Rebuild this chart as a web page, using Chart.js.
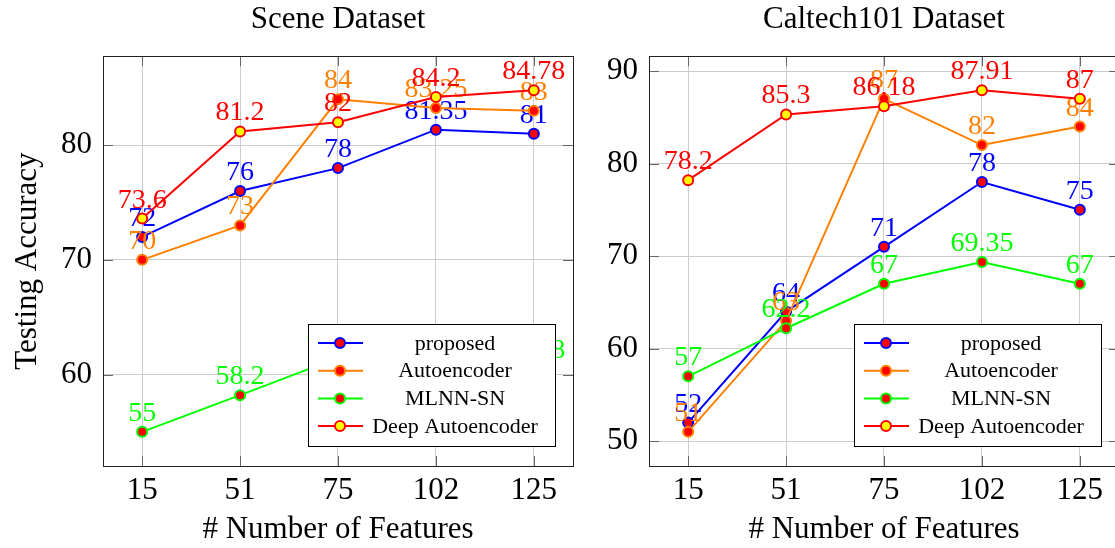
<!DOCTYPE html>
<html>
<head>
<meta charset="utf-8">
<script src="https://cdn.jsdelivr.net/npm/chart.js@4.4.0/dist/chart.umd.min.js"></script>
<style>
  html, body { margin: 0; padding: 0; background: #fff; overflow: hidden; }
  #wrap { position: relative; width: 1115px; height: 548px; overflow: hidden; }
  .box { position: absolute; top: 0; height: 548px; }
  #sceneBox { left: 0; width: 585px; }
  #caltechBox { left: 580px; width: 550px; }
</style>
</head>
<body>
<div id="wrap">
  <div class="box" id="sceneBox"><canvas id="scene-chart"></canvas></div>
  <div class="box" id="caltechBox"><canvas id="caltech-chart"></canvas></div>
</div>
<script>
const features = ["15", "51", "75", "102", "125"];
const seriesNames = ["proposed", "Autoencoder", "MLNN-SN", "Deep Autoencoder"];

// Scene dataset
const sceneProposed = [72, 76, 78, 81.35, 81];
const sceneAutoencoder = [70, 73, 84, 83.25, 83];
const sceneMlnn = [55, 58.2, 61.45, 61.8, 60.48];
const sceneDeep = [73.6, 81.2, 82, 84.2, 84.78];
const sceneTicks = [60, 70, 80];

// Caltech101 dataset
const caltechProposed = [52, 64, 71, 78, 75];
const caltechAutoencoder = [51, 63, 87, 82, 84];
const caltechMlnn = [57, 62.2, 67, 69.35, 67];
const caltechDeep = [78.2, 85.3, 86.18, 87.91, 87];
const caltechTicks = [50, 60, 70, 80, 90];

const lineColors = ["#0000ff", "#ff8000", "#00ff00", "#ff0000"];
const markFills = ["#ff0000", "#ff0000", "#ff0000", "#ffff00"];

const SERIF = '"Liberation Serif", "DejaVu Serif", serif';
Chart.defaults.font.family = SERIF;
Chart.defaults.color = "#000";

// numbers above each mark, drawn right after its own line so later series sit on top
const valueLabels = {
  id: "valueLabels",
  afterDatasetDraw(chart, args) {
    const ds = chart.data.datasets[args.index];
    const ctx = chart.ctx;
    ctx.save();
    ctx.font = "28px " + SERIF;
    ctx.fillStyle = ds.borderColor;
    ctx.textAlign = "center";
    ctx.textBaseline = "alphabetic";
    args.meta.data.forEach((pt, i) => {
      ctx.fillText(String(ds.data[i].y), pt.x, pt.y - 11);
    });
    ctx.restore();
  }
};

// axis frame with inward tick marks, then the boxed legend in the lower right
const frameAndLegend = {
  id: "frameAndLegend",
  afterDatasetsDraw(chart) {
    const { ctx, chartArea: a, scales } = chart;
    ctx.save();
    ctx.strokeStyle = "#666";
    ctx.lineWidth = 1;
    ctx.beginPath();
    scales.x.ticks.forEach(t => {
      const x = Math.round(scales.x.getPixelForValue(t.value)) + 0.5;
      ctx.moveTo(x, a.top); ctx.lineTo(x, a.top + 10);
      ctx.moveTo(x, a.bottom); ctx.lineTo(x, a.bottom - 10);
    });
    scales.y.ticks.forEach(t => {
      const y = Math.round(scales.y.getPixelForValue(t.value)) + 0.5;
      ctx.moveTo(a.left, y); ctx.lineTo(a.left + 10, y);
      ctx.moveTo(a.right, y); ctx.lineTo(a.right - 10, y);
    });
    ctx.stroke();
    ctx.strokeStyle = "#222";
    ctx.strokeRect(Math.round(a.left) + 0.5, Math.round(a.top) + 0.5,
                   Math.round(a.right - a.left), Math.round(a.bottom - a.top));

    const w = 247, h = 122;
    const x0 = Math.round(a.right - 18 - w), y0 = Math.round(a.bottom - 20 - h);
    ctx.fillStyle = "#fff";
    ctx.fillRect(x0, y0, w, h);
    ctx.strokeStyle = "#000";
    ctx.strokeRect(x0 + 0.5, y0 + 0.5, w, h);
    ctx.font = "22px " + SERIF;
    ctx.textAlign = "center";
    ctx.textBaseline = "middle";
    chart.data.datasets.forEach((ds, i) => {
      const y = y0 + 19 + i * 27.7;
      ctx.strokeStyle = ds.borderColor;
      ctx.lineWidth = 2;
      ctx.beginPath();
      ctx.moveTo(x0 + 10, y); ctx.lineTo(x0 + 55, y);
      ctx.stroke();
      ctx.beginPath();
      ctx.arc(x0 + 32, y, 5, 0, Math.PI * 2);
      ctx.fillStyle = ds.pointBackgroundColor;
      ctx.fill();
      ctx.stroke();
      ctx.fillStyle = "#000";
      ctx.fillText(ds.label, x0 + 147, y + 1);
    });
    ctx.restore();
  }
};

function makeChart(id, title, series, yTicks, yWidth, padRight, showYTitle) {
  const all = series.flat();
  const lo = Math.min(...all), hi = Math.max(...all);
  const pad = (hi - lo) * 0.1;
  return new Chart(document.getElementById(id), {
    type: "line",
    data: {
      datasets: series.map((vals, k) => ({
        label: seriesNames[k],
        data: vals.map((v, i) => ({ x: i, y: v })),
        borderColor: lineColors[k],
        backgroundColor: lineColors[k],
        pointBackgroundColor: markFills[k],
        pointBorderColor: lineColors[k],
        pointRadius: 5,
        pointBorderWidth: 2,
        borderWidth: 2,
        tension: 0,
        fill: false,
        order: 4 - k
      }))
    },
    options: {
      responsive: true,
      maintainAspectRatio: false,
      animation: false,
      layout: { padding: { left: 0, right: padRight, top: 0, bottom: 0 } },
      plugins: {
        legend: { display: false },
        tooltip: { enabled: false },
        title: {
          display: true,
          text: title,
          fullSize: false,
          font: { size: 31, weight: "normal" },
          color: "#000",
          padding: { top: 1, bottom: 18 }
        }
      },
      scales: {
        x: {
          type: "linear",
          min: -0.4,
          max: 4.4,
          afterBuildTicks: s => { s.ticks = features.map((f, i) => ({ value: i })); },
          afterFit: s => { s.height = 82; },
          ticks: {
            callback: v => features[v],
            font: { size: 31 },
            color: "#000",
            padding: 6,
            maxRotation: 0,
            autoSkip: false
          },
          grid: { color: "#cccccc", drawTicks: false },
          border: { display: false },
          title: {
            display: true,
            text: "# Number of Features",
            font: { size: 31 },
            color: "#000",
            padding: { top: 0, bottom: 0 }
          }
        },
        y: {
          min: lo - pad,
          max: hi + pad,
          afterBuildTicks: s => { s.ticks = yTicks.map(v => ({ value: v })); },
          afterFit: s => { s.width = yWidth; },
          ticks: { font: { size: 31 }, color: "#000", padding: 11 },
          grid: { color: "#cccccc", drawTicks: false },
          border: { display: false },
          title: {
            display: showYTitle,
            text: "Testing Accuracy",
            font: { size: 31 },
            color: "#000",
            padding: { top: 9, bottom: 0 }
          }
        }
      }
    },
    plugins: [valueLabels, frameAndLegend]
  });
}

makeChart("scene-chart", "Scene Dataset",
  [sceneProposed, sceneAutoencoder, sceneMlnn, sceneDeep], sceneTicks, 103, 12, true);
makeChart("caltech-chart", "Caltech101 Dataset",
  [caltechProposed, caltechAutoencoder, caltechMlnn, caltechDeep], caltechTicks, 69, 11, false);
</script>
</body>
</html>
